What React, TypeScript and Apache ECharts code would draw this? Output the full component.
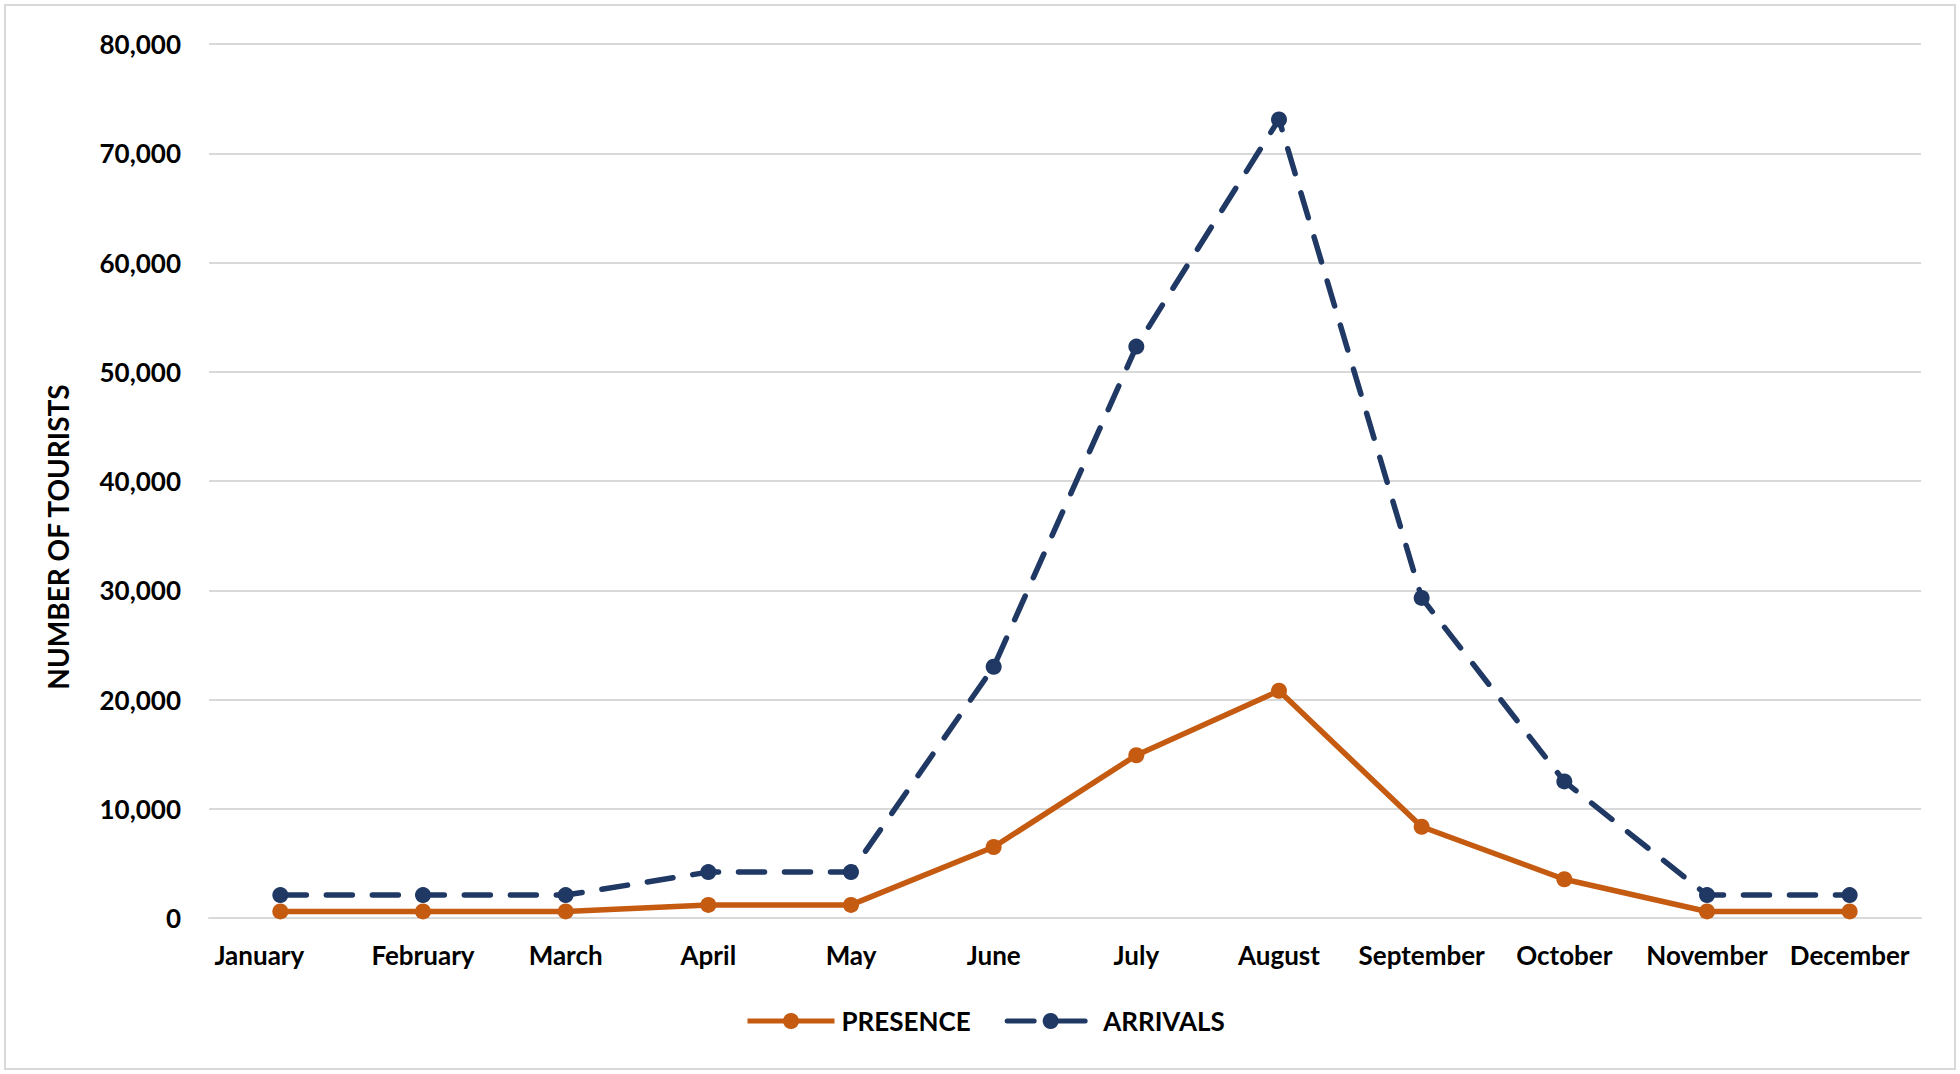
import React, { useEffect, useRef } from "react";
import * as echarts from "echarts";

const months = ["January","February","March","April","May","June","July","August","September","October","November","December"];
const presence = [600, 600, 600, 1200, 1200, 6500, 14900, 20800, 8350, 3550, 600, 600];
const arrivals = [2100, 2100, 2100, 4200, 4200, 23000, 52300, 73100, 29300, 12500, 2100, 2100];
const yTicks = { min: 0, max: 80000, interval: 10000 };
const yTitle = "NUMBER OF TOURISTS";

const FONT = "Lato, 'Open Sans', sans-serif";
const ORANGE = "#C55A11";
const NAVY = "#1F3864";

export default function App() {
  const ref = useRef<HTMLDivElement>(null);
  useEffect(() => {
    if (!ref.current) return;
    const chart = echarts.init(ref.current, undefined, { renderer: "svg" });
    chart.setOption({
      animation: false,
      backgroundColor: "#fff",
      graphic: [
        {
          type: "rect",
          shape: { x: 5, y: 5, width: 1950, height: 1064 },
          style: { fill: "none", stroke: "#d9d9d9", lineWidth: 2 },
          silent: true,
        },
        {
          type: "text",
          x: 58,
          y: 537,
          rotation: Math.PI / 2,
          style: {
            text: yTitle,
            fontFamily: FONT,
            fontWeight: "bold",
            fontSize: 28,
            fill: "#000",
            align: "center",
            verticalAlign: "middle",
          },
          silent: true,
        },
      ],
      grid: { left: 209, right: 39, top: 44, bottom: 156, containLabel: false },
      legend: {
        bottom: 35,
        left: 740,
        itemWidth: 87,
        itemHeight: 20,
        itemGap: 34,
        textStyle: { fontFamily: FONT, fontWeight: "bold", fontSize: 26, color: "#000", padding: [0, 0, 0, 2] },
        data: [
          { name: "PRESENCE", lineStyle: { width: 5, color: ORANGE } },
          { name: "ARRIVALS", lineStyle: { width: 5, color: NAVY, type: [27, 20, 31, 100] }, textStyle: { padding: [0, 0, 0, 4] } },
        ],
      },
      xAxis: {
        type: "category",
        data: months.map((m, i) =>
          i === 0 ? { value: m, textStyle: { padding: [0, 42, 0, 0] } } : m
        ),
        boundaryGap: true,
        axisLine: { show: true, lineStyle: { color: "#d9d9d9", width: 2 } },
        axisTick: { show: false },
        axisLabel: { fontFamily: FONT, fontWeight: "bold", fontSize: 26, color: "#000", margin: 24, interval: 0 },
      },
      yAxis: {
        type: "value",
        min: yTicks.min,
        max: yTicks.max,
        interval: yTicks.interval,
        axisLine: { show: false },
        axisTick: { show: false },
        splitLine: { lineStyle: { color: "#d9d9d9", width: 2 } },
        axisLabel: {
          fontFamily: FONT,
          fontWeight: "bold",
          fontSize: 26,
          color: "#000",
          margin: 28,
          formatter: (v: number) => v.toLocaleString("en-US"),
        },
      },
      series: [
        {
          name: "PRESENCE",
          type: "line",
          data: presence,
          symbol: "circle",
          symbolSize: 16,
          itemStyle: { color: ORANGE },
          lineStyle: { color: ORANGE, width: 5.5 },
          z: 3,
        },
        {
          name: "ARRIVALS",
          type: "line",
          data: arrivals,
          symbol: "circle",
          symbolSize: 16,
          itemStyle: { color: NAVY },
          lineStyle: { color: NAVY, width: 5.5, type: [26, 20], cap: "round" },
          z: 2,
        },
      ],
    });
    return () => chart.dispose();
  }, []);
  return <div ref={ref} style={{ position: "fixed", left: 0, top: 0, width: 1960, height: 1074 }} />;
}
